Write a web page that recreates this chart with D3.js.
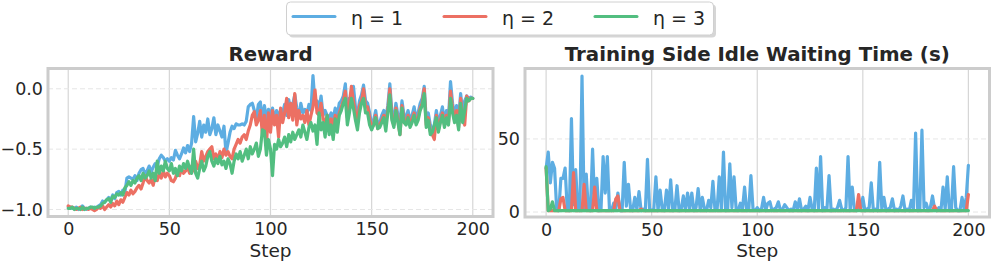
<!DOCTYPE html>
<html><head><meta charset="utf-8">
<script src="https://cdn.jsdelivr.net/npm/d3@7"></script>
<style>body{margin:0;background:#fff;} text{font-family:"DejaVu Sans",sans-serif;}</style>
</head><body><svg id="c" width="996" height="262"></svg>
<script>
// ---------- DATA ----------
const seriesNames = ["η = 1", "η = 2", "η = 3"];
const seriesColors = ["#5DADE2", "#EC7063", "#52BE80"];
const xTicks = [0, 50, 100, 150, 200];
const rewardTicks = [-1.0, -0.5, 0.0];
const waitTicks = [0, 50];

const rewardEta1 = [
-0.98,-0.98,-0.99,-0.99,-0.98,-1.00,-0.99,-0.97,-0.99,-1.00,
-0.99,-0.98,-0.99,-0.98,-0.99,-0.97,-0.96,-0.93,-0.94,-0.92,
-0.90,-0.92,-0.88,-0.91,-0.86,-0.85,-0.88,-0.84,-0.86,-0.74,
-0.73,-0.74,-0.75,-0.72,-0.76,-0.70,-0.67,-0.66,-0.71,-0.68,
-0.64,-0.69,-0.65,-0.62,-0.64,-0.58,-0.55,-0.57,-0.60,-0.58,
-0.60,-0.57,-0.59,-0.51,-0.55,-0.58,-0.54,-0.49,-0.53,-0.47,
-0.52,-0.45,-0.23,-0.44,-0.37,-0.27,-0.40,-0.30,-0.36,-0.25,
-0.38,-0.33,-0.24,-0.38,-0.30,-0.35,-0.40,-0.31,-0.53,-0.45,
-0.36,-0.31,-0.33,-0.29,-0.30,-0.30,-0.29,-0.30,-0.27,-0.15,
-0.13,-0.12,-0.18,-0.25,-0.13,-0.11,-0.27,-0.14,-0.25,-0.17,
-0.22,-0.16,-0.26,-0.18,-0.21,-0.26,-0.20,-0.13,-0.22,-0.09,
-0.18,-0.13,-0.05,-0.16,-0.24,-0.12,-0.20,-0.17,-0.21,-0.13,
-0.18,0.11,-0.12,-0.10,-0.17,-0.06,-0.22,-0.18,-0.22,-0.24,
-0.20,-0.25,-0.16,-0.22,-0.12,-0.10,-0.06,0.04,-0.22,-0.08,
-0.15,0.02,-0.15,-0.22,-0.10,-0.05,0.03,-0.10,-0.12,-0.20,
-0.30,-0.26,-0.18,-0.30,-0.28,-0.22,-0.18,-0.24,-0.14,0.04,
-0.20,-0.25,-0.12,-0.22,-0.28,-0.10,-0.22,-0.24,-0.18,-0.26,
-0.22,-0.15,-0.25,-0.20,-0.12,-0.08,0.02,-0.26,-0.20,-0.30,
-0.36,-0.30,-0.18,-0.30,-0.22,-0.15,-0.28,-0.18,-0.24,0.06,
-0.12,-0.22,-0.14,-0.26,-0.04,-0.20,-0.10,-0.06,-0.08,-0.07,
-0.08];

const rewardEta2 = [
-0.97,-0.98,-0.98,-0.99,-1.00,-0.99,-0.98,-1.00,-0.99,-0.99,
-1.00,-0.99,-1.00,-1.01,-1.00,-0.98,-0.99,-0.97,-1.00,-0.98,
-0.96,-0.98,-0.95,-0.97,-0.93,-0.96,-0.92,-0.94,-0.90,-0.86,
-0.88,-0.84,-0.87,-0.85,-0.82,-0.80,-0.83,-0.78,-0.72,-0.76,
-0.78,-0.75,-0.80,-0.72,-0.76,-0.70,-0.74,-0.68,-0.73,-0.70,
-0.72,-0.76,-0.77,-0.74,-0.68,-0.72,-0.66,-0.70,-0.68,-0.65,
-0.70,-0.64,-0.68,-0.60,-0.66,-0.63,-0.52,-0.60,-0.56,-0.52,
-0.50,-0.48,-0.58,-0.54,-0.60,-0.52,-0.57,-0.50,-0.55,-0.52,
-0.56,-0.58,-0.50,-0.46,-0.42,-0.45,-0.40,-0.38,-0.42,-0.35,
-0.30,-0.22,-0.19,-0.30,-0.26,-0.18,-0.38,-0.22,-0.45,-0.20,
-0.36,-0.18,-0.30,-0.22,-0.40,-0.16,-0.28,-0.20,-0.08,-0.24,
-0.12,-0.26,-0.04,-0.30,-0.18,-0.25,-0.22,-0.28,-0.18,-0.30,
-0.22,-0.15,-0.01,-0.20,-0.22,-0.12,-0.25,-0.28,-0.22,-0.30,
-0.25,-0.32,-0.22,-0.28,-0.20,-0.15,-0.10,-0.02,-0.24,-0.12,
0.02,-0.10,-0.20,-0.26,-0.14,-0.10,0.00,-0.15,-0.15,-0.24,
-0.32,-0.30,-0.22,-0.33,-0.30,-0.26,-0.22,-0.28,-0.18,0.00,
-0.24,-0.30,-0.16,-0.26,-0.38,-0.14,-0.25,-0.28,-0.22,-0.30,
-0.25,-0.20,-0.28,-0.24,-0.16,-0.12,0.00,-0.30,-0.24,-0.35,
-0.38,-0.42,-0.22,-0.34,-0.26,-0.20,-0.30,-0.22,-0.28,-0.02,
-0.16,-0.26,-0.18,-0.32,-0.08,-0.24,-0.30,-0.06,-0.10,-0.08,
-0.08];

const rewardEta3 = [
-0.99,-0.99,-0.98,-1.00,-0.99,-0.99,-1.00,-0.98,-1.00,-0.99,
-0.99,-0.98,-0.98,-0.99,-0.98,-0.98,-0.97,-0.95,-0.94,-0.92,
-0.91,-0.94,-0.89,-0.90,-0.87,-0.88,-0.86,-0.88,-0.82,-0.80,
-0.77,-0.80,-0.76,-0.78,-0.74,-0.72,-0.76,-0.70,-0.74,-0.72,
-0.68,-0.74,-0.70,-0.76,-0.60,-0.70,-0.64,-0.68,-0.60,-0.66,
-0.68,-0.62,-0.70,-0.66,-0.72,-0.64,-0.68,-0.62,-0.66,-0.60,
-0.66,-0.70,-0.50,-0.70,-0.74,-0.66,-0.60,-0.68,-0.64,-0.56,
-0.52,-0.60,-0.64,-0.58,-0.62,-0.56,-0.63,-0.60,-0.66,-0.58,
-0.62,-0.70,-0.60,-0.54,-0.58,-0.52,-0.60,-0.55,-0.50,-0.58,
-0.48,-0.54,-0.50,-0.45,-0.56,-0.50,-0.34,-0.35,-0.55,-0.42,
-0.50,-0.72,-0.46,-0.50,-0.42,-0.48,-0.45,-0.40,-0.48,-0.38,
-0.44,-0.36,-0.42,-0.38,-0.34,-0.40,-0.30,-0.36,-0.42,-0.32,
-0.28,-0.35,-0.30,-0.46,-0.20,-0.34,-0.28,-0.40,-0.22,-0.38,
-0.30,-0.42,-0.25,-0.36,-0.22,-0.18,-0.12,-0.08,-0.30,-0.20,
-0.08,-0.16,-0.26,-0.34,-0.20,-0.12,-0.08,-0.20,-0.20,-0.30,
-0.34,-0.30,-0.24,-0.33,-0.32,-0.28,-0.24,-0.35,-0.20,-0.05,
-0.26,-0.32,-0.18,-0.28,-0.38,-0.16,-0.28,-0.30,-0.24,-0.32,
-0.28,-0.22,-0.30,-0.26,-0.18,-0.14,-0.04,-0.32,-0.26,-0.38,
-0.36,-0.30,-0.24,-0.36,-0.28,-0.22,-0.32,-0.24,-0.30,-0.08,
-0.20,-0.28,-0.22,-0.34,-0.12,-0.28,-0.18,-0.08,-0.10,-0.08,
-0.08];

const waitEta1 = [
30,41,20,34,30,2,1,23,23,30,
2,1,64,5,29,2,1,93,3,26,
2,1,43,5,23,1,2,38,13,38,
2,1,6,2,13,1,1,34,4,19,
2,1,10,2,14,1,2,1,36,2,
1,2,24,1,15,2,1,15,2,22,
1,2,18,1,2,11,1,13,2,13,
1,3,16,1,10,2,1,8,3,21,
1,2,24,2,41,1,2,33,3,24,
2,1,6,2,17,1,2,25,2,1,
3,1,2,10,1,6,7,1,2,3,
7,1,2,5,3,1,2,1,7,2,
9,1,2,4,1,10,2,1,30,2,
38,1,3,2,25,1,2,1,3,8,
2,1,3,38,1,17,2,1,4,2,
10,1,2,3,20,1,2,1,34,2,
10,1,2,3,9,1,2,1,4,11,
1,2,1,8,2,54,1,2,56,3,
6,1,3,11,2,1,3,1,17,2,
24,1,2,31,3,1,1,10,2,10,
32];

const waitEta2 = [
30,1,1,1,1,1,1,9,10,1,
1,1,1,27,1,1,1,1,19,1,
1,1,1,17,1,1,1,1,1,1,
1,1,1,9,11,1,1,1,1,1,
1,1,1,1,1,2,1,1,1,1,
1,1,1,1,1,1,1,1,1,1,
1,1,1,1,1,1,1,1,1,1,
1,1,1,1,1,1,1,1,1,1,
1,1,1,1,1,1,1,1,1,1,
1,1,1,1,1,1,1,1,1,1,
1,1,1,1,1,1,1,1,1,1,
1,1,1,1,1,1,1,1,1,1,
1,1,1,1,1,1,1,1,1,1,
1,1,1,1,1,1,1,1,1,1,
1,1,1,1,1,1,1,1,12,1,
1,1,1,1,1,1,1,1,1,1,
1,1,1,1,1,1,1,1,1,1,
1,1,1,1,1,1,1,1,1,1,
1,1,1,1,4,1,1,1,1,1,
1,1,1,1,1,1,1,1,1,1,
12];

const waitEta3 = [
31,1,2,7,1,1,1,1,1,1,
1,1,1,1,1,1,1,1,1,1,
1,1,1,1,1,1,1,1,1,1,
1,1,1,1,1,1,1,1,1,1,
1,1,1,1,1,1,1,1,1,1,
1,1,1,1,1,1,1,1,1,1,
1,1,1,1,1,1,1,1,1,1,
1,1,1,1,1,1,1,1,1,1,
1,1,1,1,1,1,1,1,1,1,
1,1,1,1,1,1,1,1,1,1,
1,1,1,1,1,1,1,1,1,1,
1,1,1,1,1,1,1,1,1,1,
1,1,1,1,1,1,1,1,1,1,
1,1,1,1,1,1,1,1,1,1,
1,1,1,1,1,1,1,1,1,1,
1,1,1,1,1,1,1,1,1,1,
1,1,1,1,1,1,1,1,1,1,
1,1,1,1,1,1,1,1,1,1,
1,1,1,1,1,1,1,1,1,1,
1,1,1,1,1,1,1,1,1,1,
1];

// ---------- DRAW ----------
const svg = d3.select("#c");
const fmtMinus = f => d => f(d).replace("-", "\u2212");

const panels = [
  {title: "Reward", x0: 48, x1: 493, y0: 68.5, y1: 216.5,
   yDomain: [-1.058, 0.168], yTicks: rewardTicks, yFmt: fmtMinus(d3.format(".1f")),
   series: [rewardEta1, rewardEta2, rewardEta3]},
  {title: "Training Side Idle Waiting Time (s)", x0: 525, x1: 989.5, y0: 68.5, y1: 217,
   yDomain: [-3.4, 98.2], yTicks: waitTicks, yFmt: d3.format("d"),
   series: [waitEta1, waitEta2, waitEta3]}
];

panels.forEach((p, pi) => {
  const x = d3.scaleLinear().domain([-10, 210]).range([p.x0, p.x1]);
  const y = d3.scaleLinear().domain(p.yDomain).range([p.y1, p.y0]);
  const g = svg.append("g");
  const clipId = "clip" + pi;
  svg.append("clipPath").attr("id", clipId).append("rect")
    .attr("x", p.x0).attr("y", p.y0).attr("width", p.x1 - p.x0).attr("height", p.y1 - p.y0);

  // grid
  g.selectAll(".vg").data(xTicks).join("line")
    .attr("x1", d => x(d)).attr("x2", d => x(d)).attr("y1", p.y0).attr("y2", p.y1)
    .attr("stroke", "#d6d6d6").attr("stroke-width", 1.2);
  g.selectAll(".hg").data(p.yTicks).join("line")
    .attr("x1", p.x0).attr("x2", p.x1).attr("y1", d => y(d)).attr("y2", d => y(d))
    .attr("stroke", "#e6e6e6").attr("stroke-width", 1).attr("stroke-dasharray", "5,3");

  // lines
  const line = d3.line().x((d, i) => x(i)).y(d => y(d));
  const lg = g.append("g").attr("clip-path", `url(#${clipId})`);
  p.series.forEach((s, si) => {
    lg.append("path").datum(s).attr("d", line).attr("fill", "none")
      .attr("stroke", seriesColors[si]).attr("stroke-width", 3.2)
      .attr("stroke-linejoin", "round").attr("stroke-linecap", "round");
  });

  // frame
  g.append("rect").attr("x", p.x0).attr("y", p.y0).attr("width", p.x1 - p.x0).attr("height", p.y1 - p.y0)
    .attr("fill", "none").attr("stroke", "#cccccc").attr("stroke-width", 3);

  // axes
  const xa = g.append("g").attr("transform", `translate(0,${p.y1 + 3.5})`)
    .call(d3.axisBottom(x).tickValues(xTicks).tickSize(0).tickPadding(3).tickFormat(d3.format("d")));
  xa.select(".domain").remove();
  xa.selectAll("text").attr("font-size", 17.5).attr("fill", "#262626").attr("font-family", "DejaVu Sans");

  const ya = g.append("g").attr("transform", `translate(${p.x0 - 4},0)`)
    .call(d3.axisLeft(y).tickValues(p.yTicks).tickSize(0).tickPadding(1).tickFormat(p.yFmt));
  ya.select(".domain").remove();
  ya.selectAll("text").attr("font-size", 17.5).attr("fill", "#262626").attr("font-family", "DejaVu Sans");

  g.append("text").attr("x", (p.x0 + p.x1) / 2).attr("y", 60.5).attr("text-anchor", "middle")
    .attr("font-size", 19.8).attr("font-weight", "bold").attr("fill", "#262626").text(p.title);
  g.append("text").attr("x", (p.x0 + p.x1) / 2).attr("y", 257).attr("text-anchor", "middle")
    .attr("font-size", 18.5).attr("fill", "#262626").text("Step");
});

// legend
const leg = svg.append("g");
leg.append("rect").attr("x", 289).attr("y", 4.5).attr("width", 427).attr("height", 33).attr("rx", 4)
  .attr("fill", "#bbbbbb").attr("opacity", 0.6);
leg.append("rect").attr("x", 286.5).attr("y", 2).attr("width", 427).attr("height", 33).attr("rx", 4)
  .attr("fill", "#ffffff").attr("stroke", "#d0d0d0").attr("stroke-width", 1);
seriesNames.forEach((n, i) => {
  const lx = 293 + i * 151;
  leg.append("line").attr("x1", lx).attr("x2", lx + 42).attr("y1", 16.5).attr("y2", 16.5)
    .attr("stroke", seriesColors[i]).attr("stroke-width", 3).attr("stroke-linecap", "round");
  leg.append("text").attr("x", lx + 58).attr("y", 25).attr("font-size", 19).attr("fill", "#262626").text(n);
});
</script></body></html>
